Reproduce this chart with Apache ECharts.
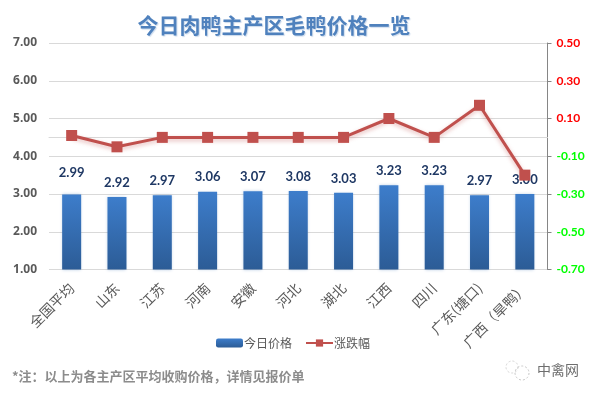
<!DOCTYPE html>
<html><head><meta charset="utf-8">
<style>html,body{margin:0;padding:0;background:#fff}#c{width:596px;height:396px}</style>
<script src="https://cdn.jsdelivr.net/npm/echarts@6/dist/echarts.min.js"></script>
</head><body><div id="c"></div>
<script>
const categories = ['全国平均','山东','江苏','河南','安徽','河北','湖北','江西','四川','广东(塘口)','广西（旱鸭）'];
const priceValues = [2.99,2.92,2.97,3.06,3.07,3.08,3.03,3.23,3.23,2.97,3.00];
const changeValues = [0.01,-0.05,0,0,0,0,0,0.10,0,0.17,-0.20];
const leftTicks = [1,2,3,4,5,6,7];
const rightTicks = [-0.7,-0.5,-0.3,-0.1,0.1,0.3,0.5];
const CJK = '"Noto Sans CJK SC"';
const chart = echarts.init(document.getElementById('c'), null, {renderer:'canvas'});
chart.setOption({
  animation:false,
  backgroundColor:'#fff',
  title:{text:'今日肉鸭主产区毛鸭价格一览',left:269,textAlign:'center',top:10,
    textStyle:{fontFamily:CJK,fontWeight:'bold',fontSize:21,color:'#4f81bd',
      textShadowColor:'rgba(79,129,189,0.3)',textShadowBlur:1,textShadowOffsetX:1,textShadowOffsetY:1}},
  grid:{left:49,right:48.5,top:43,bottom:126.5,containLabel:false},
  legend:{left:211,top:332,itemGap:13,itemWidth:27,itemHeight:9,
    textStyle:{fontFamily:CJK,fontSize:12,color:'#595959',padding:[0,0,0,-4]},
    data:[{name:'今日价格'},{name:'涨跌幅'}]},
  xAxis:{type:'category',data:categories,
    axisLine:{lineStyle:{color:'#d9d9d9',width:1}},axisTick:{show:false},
    axisLabel:{rotate:45,interval:0,margin:16,padding:[6,0,0,0],fontFamily:CJK,fontSize:14,color:'#595959'}},
  yAxis:[
    {type:'value',min:leftTicks[0],max:leftTicks[leftTicks.length-1],interval:1,
     axisLine:{show:false},axisTick:{show:false},
     splitLine:{lineStyle:{color:'#d9d9d9',width:1}},
     axisLabel:{margin:12,padding:[4,0,0,0],fontFamily:'"Noto Sans"',fontWeight:'bold',fontSize:12,color:'#595959',formatter:v=>v.toFixed(2)}},
    {type:'value',position:'right',min:rightTicks[0],max:rightTicks[rightTicks.length-1],
     axisLine:{show:true,lineStyle:{color:'#868686',width:1}},
     axisTick:{show:true,length:4,lineStyle:{color:'#868686'},customValues:rightTicks},
     splitLine:{show:false},
     axisLabel:{margin:9,padding:[3,0,0,0],fontFamily:'Lato',fontWeight:'bold',fontSize:12,
       customValues:rightTicks,
       color:v=>Number(v)>0?'#ff0000':'#00ff00',formatter:v=>Number(v).toFixed(2)}}
  ],
  series:[
    {name:'今日价格',type:'bar',barWidth:19,yAxisIndex:0,
     data:priceValues.map((v,i)=>i===0?{value:v,label:{offset:[0,-7]}}:v),
     itemStyle:{color:new echarts.graphic.LinearGradient(0,0,0,1,[{offset:0,color:'#3d7dcb'},{offset:1,color:'#2c5c96'}]),
       shadowColor:'rgba(79,129,189,0.35)',shadowBlur:3},
     label:{show:true,position:'top',distance:8,fontFamily:'Lato',fontWeight:'bold',fontSize:13,color:'#1f3864',formatter:p=>p.value.toFixed(2)}},
    {name:'涨跌幅',type:'line',yAxisIndex:1,data:changeValues,symbol:'rect',symbolSize:11,
     lineStyle:{color:'#c0504d',width:3,shadowColor:'rgba(192,80,77,0.4)',shadowBlur:4,shadowOffsetY:2},
     itemStyle:{color:'#c0504d'},z:5}
  ],
  graphic:[
    {type:'text',left:12,top:370,style:{text:'*注：以上为各主产区平均收购价格，详情见报价单',font:'bold 13px "Noto Sans CJK SC"',fill:'#8c8c8c'}},
    {type:'text',left:537,top:363,style:{text:'中禽网',font:'14px "Noto Sans CJK SC"',fill:'#6e6e6e'}},
    {type:'circle',shape:{cx:512,cy:367,r:6},style:{fill:'none',stroke:'#d4d4d4',lineWidth:1,lineDash:[2,2]}},
    {type:'circle',shape:{cx:522,cy:373,r:7},style:{fill:'none',stroke:'#c8c8c8',lineWidth:1,lineDash:[2,2]}}
  ]
});
</script></body></html>
